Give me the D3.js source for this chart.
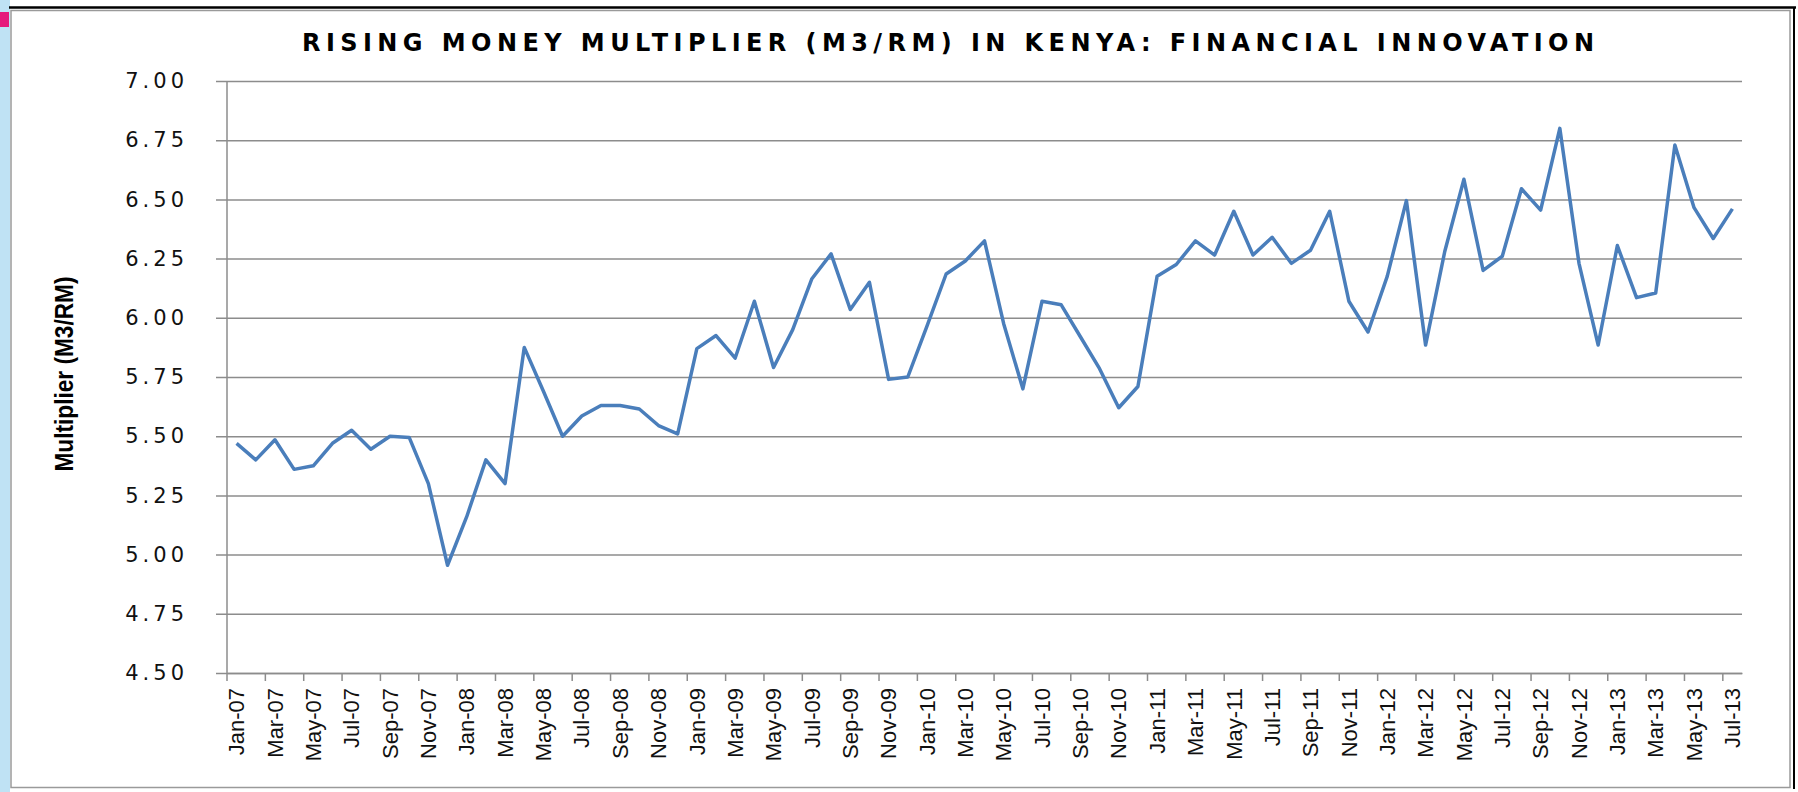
<!doctype html>
<html>
<head>
    <meta charset="utf-8">
    <title>Rising Money Multiplier (M3/RM) in Kenya</title>
    <style>
        body {
            margin: 0;
            padding: 0;
            background: #ffffff;
        }
        .grid line {
            stroke: #8c8c8c;
            stroke-width: 1.5;
        }
        .grid text {
            font-family: "DejaVu Sans", sans-serif;
            font-size: 21px;
            letter-spacing: 4px;
            fill: #111;
        }
        .xaxis path {
            stroke: #8c8c8c;
            stroke-width: 1.5;
        }
        .xaxis text {
            font-family: "Liberation Sans", Arial, sans-serif;
            font-size: 22px;
            fill: #111;
        }
    </style>
</head>
<body>
    <svg id="chart" width="1798" height="792"></svg>

    <script src="https://d3js.org/d3.v7.min.js"></script>
    <script>
        // categories
        var monthNames = ["Jan", "Feb", "Mar", "Apr", "May", "Jun", "Jul", "Aug", "Sep", "Oct", "Nov", "Dec"];
        var years = ["07", "08", "09", "10", "11", "12", "13"];

        // M3 / reserve money, Jan-07 .. Jul-13
        var multiplier = [
            5.47, 5.40, 5.485, 5.36, 5.375, 5.47, 5.525, 5.445, 5.50, 5.495, 5.30, 4.955,
            5.16, 5.40, 5.30, 5.875, 5.69, 5.50, 5.585, 5.63, 5.63, 5.615, 5.545, 5.51,
            5.87, 5.925, 5.83, 6.07, 5.79, 5.95, 6.165, 6.27, 6.035, 6.15, 5.74, 5.75,
            5.965, 6.185, 6.24, 6.325, 5.975, 5.70, 6.07, 6.055, 5.92, 5.785, 5.62, 5.71,
            6.175, 6.225, 6.325, 6.265, 6.45, 6.265, 6.34, 6.23, 6.285, 6.45, 6.07, 5.94,
            6.175, 6.495, 5.885, 6.28, 6.585, 6.20, 6.26, 6.545, 6.455, 6.80, 6.23, 5.885,
            6.305, 6.085, 6.105, 6.73, 6.465, 6.335, 6.46
        ];

        var yTicks = [4.50, 4.75, 5.00, 5.25, 5.50, 5.75, 6.00, 6.25, 6.50, 6.75, 7.00];

        var months = [];
        years.forEach(function(yr) {
            monthNames.forEach(function(m) { months.push(m + "-" + yr); });
        });
        months = months.slice(0, multiplier.length);

        var svg = d3.select("#chart");

        // page decoration: blue strip on the left, pink tab, frame
        svg.append("rect")
            .attr("x", 0).attr("y", 0)
            .attr("width", 10).attr("height", 792)
            .style("fill", "#bfe2f4");
        svg.append("rect")
            .attr("x", 0).attr("y", 12)
            .attr("width", 9).attr("height", 15)
            .style("fill", "#e6197c");
        svg.append("line")
            .attr("x1", 9).attr("x2", 1796).attr("y1", 7.5).attr("y2", 7.5)
            .style("stroke", "#000").style("stroke-width", 2.5);
        svg.append("rect")
            .attr("x", 11).attr("y", 10.5)
            .attr("width", 1779).attr("height", 777)
            .style("fill", "none").style("stroke", "#9a9a9a").style("stroke-width", 1.5);
        svg.append("line")
            .attr("x1", 1794).attr("x2", 1794).attr("y1", 7).attr("y2", 789)
            .style("stroke", "#000").style("stroke-width", 2);

        var margin = {top: 81, right: 56, bottom: 119, left: 227},
            width = 1798 - margin.left - margin.right,
            height = 792 - margin.top - margin.bottom;

        var x = d3.scaleBand()
            .domain(months)
            .range([0, width])
            .padding(0);

        var y = d3.scaleLinear()
            .domain([4.5, 7.0])
            .range([height, 0]);

        var g = svg.append("g")
            .attr("transform", "translate(" + margin.left + "," + margin.top + ")");

        // horizontal gridlines + y tick labels
        var grid = g.append("g")
            .attr("class", "grid")
            .attr("transform", "translate(" + width + ",0)")
            .call(d3.axisLeft(y)
                .tickValues(yTicks)
                .tickSize(width + 11)
                .tickPadding(28)
                .tickFormat(d3.format(".2f")));
        grid.select(".domain").remove();

        // y axis line
        g.append("line")
            .attr("x1", 0).attr("x2", 0)
            .attr("y1", 0).attr("y2", height)
            .style("stroke", "#8c8c8c").style("stroke-width", 1.5);

        // x axis, a label on every second month
        var evenMonths = months.filter(function(d, i) { return i % 2 === 0; });

        var xAxis = g.append("g")
            .attr("class", "xaxis")
            .attr("transform", "translate(0," + height + ")")
            .call(d3.axisBottom(x)
                .tickValues(evenMonths)
                .tickSize(0)
                .tickSizeOuter(0));

        xAxis.selectAll(".tick text")
            .attr("transform", "rotate(-90)")
            .attr("x", -15)
            .attr("y", 0)
            .attr("dy", "0.35em")
            .style("text-anchor", "end");

        xAxis.selectAll(".tickmark")
            .data(evenMonths)
            .enter().append("line")
            .attr("class", "tickmark")
            .attr("x1", function(d) { return x(d); })
            .attr("x2", function(d) { return x(d); })
            .attr("y1", 0).attr("y2", 8)
            .style("stroke", "#8c8c8c").style("stroke-width", 1.5);

        // the series
        var line = d3.line()
            .x(function(d, i) { return x(months[i]) + x.bandwidth() / 2; })
            .y(function(d) { return y(d); });

        g.append("path")
            .datum(multiplier)
            .attr("d", line)
            .style("fill", "none")
            .style("stroke", "#4a7ebb")
            .style("stroke-width", 3.5)
            .style("stroke-linejoin", "round");

        // y axis title
        svg.append("text")
            .attr("transform", "translate(73,374) rotate(-90)")
            .attr("text-anchor", "middle")
            .attr("textLength", 195)
            .attr("lengthAdjust", "spacingAndGlyphs")
            .style("font-family", "'Liberation Sans', Arial, sans-serif")
            .style("font-weight", "bold")
            .style("font-size", "26px")
            .style("fill", "#000")
            .text("Multiplier (M3/RM)");

        // chart title
        svg.append("text")
            .attr("x", 948)
            .attr("y", 51)
            .attr("text-anchor", "middle")
            .attr("textLength", 1292)
            .attr("lengthAdjust", "spacing")
            .style("font-family", "'DejaVu Sans', sans-serif")
            .style("font-weight", "bold")
            .style("font-size", "24px")
            .style("fill", "#000")
            .text("RISING MONEY MULTIPLIER (M3/RM) IN KENYA: FINANCIAL INNOVATION");
    </script>
</body>
</html>
